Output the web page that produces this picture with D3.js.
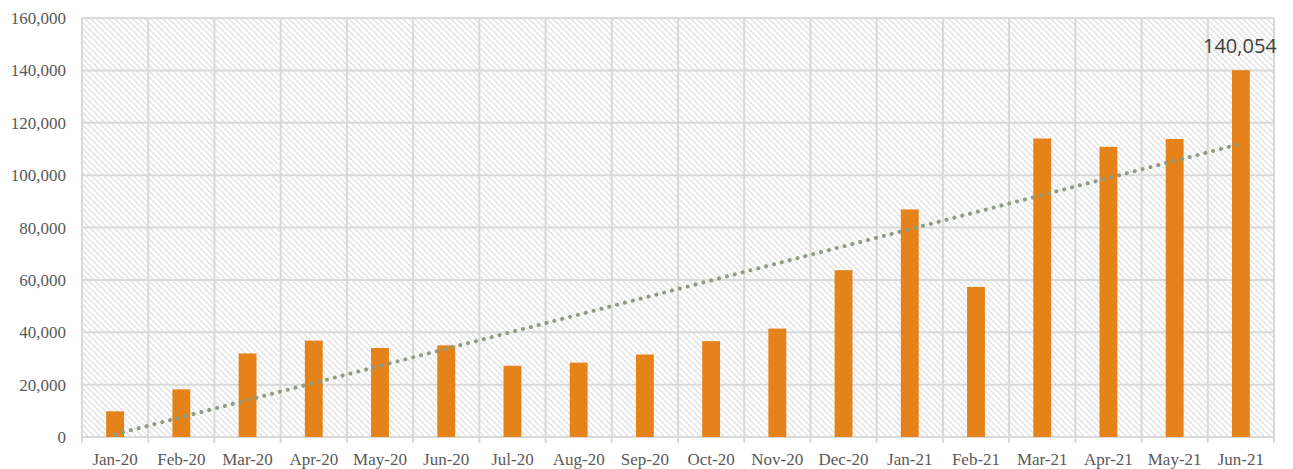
<!DOCTYPE html>
<html>

<head>
    <meta charset="utf-8" />
    <script src="https://cdn.jsdelivr.net/npm/d3@7"></script>
    <style>
        body { margin: 0; background: #fff; }
    </style>
</head>

<body>
    <script>
        var width = 1293;
        var height = 469;
        var paddings = { top: 18, right: 19, bottom: 32, left: 82 };

        var months = ['Jan-20', 'Feb-20', 'Mar-20', 'Apr-20', 'May-20', 'Jun-20', 'Jul-20', 'Aug-20', 'Sep-20',
            'Oct-20', 'Nov-20', 'Dec-20', 'Jan-21', 'Feb-21', 'Mar-21', 'Apr-21', 'May-21', 'Jun-21'];
        var values = [9800, 18200, 31900, 36800, 34000, 35000, 27200, 28400, 31500,
            36600, 41400, 63700, 86900, 57300, 114000, 110800, 113800, 140054];
        var yTicks = [0, 20000, 40000, 60000, 80000, 100000, 120000, 140000, 160000];

        var svg = d3.select('body')
            .append('svg')
            .attr('width', width)
            .attr('height', height);

        // hatched plot background
        var pat = svg.append('defs').append('pattern')
            .attr('id', 'hatch')
            .attr('patternUnits', 'userSpaceOnUse')
            .attr('width', 6)
            .attr('height', 6);
        pat.append('path')
            .attr('d', 'M0,0 L6,6 M-3,3 L3,9 M3,-3 L9,3')
            .attr('stroke', '#e0e0e0')
            .attr('stroke-width', 1.3);

        var x = d3.scaleBand()
            .domain(months)
            .range([paddings.left, width - paddings.right])
            .paddingInner(0.73)
            .paddingOuter(0.365);
        var step = x.step();
        var x0 = paddings.left;

        var y = d3.scaleLinear()
            .domain([0, 160000])
            .range([height - paddings.bottom, paddings.top]);

        svg.append('rect')
            .attr('x', paddings.left)
            .attr('y', paddings.top)
            .attr('width', width - paddings.left - paddings.right)
            .attr('height', height - paddings.top - paddings.bottom)
            .attr('fill', 'url(#hatch)');

        // horizontal gridlines
        svg.append('g').selectAll('line')
            .data(yTicks)
            .enter()
            .append('line')
            .attr('x1', paddings.left)
            .attr('x2', width - paddings.right)
            .attr('y1', function (d) { return y(d); })
            .attr('y2', function (d) { return y(d); })
            .attr('stroke', '#d9d9d9')
            .attr('stroke-width', 2);

        // vertical gridlines at category boundaries
        var bounds = d3.range(months.length + 1);
        svg.append('g').selectAll('line')
            .data(bounds)
            .enter()
            .append('line')
            .attr('x1', function (d) { return x0 + d * step; })
            .attr('x2', function (d) { return x0 + d * step; })
            .attr('y1', paddings.top)
            .attr('y2', height - paddings.bottom + 6)
            .attr('stroke', '#d9d9d9')
            .attr('stroke-width', 2);

        // bars
        svg.append('g').selectAll('rect')
            .data(values)
            .enter()
            .append('rect')
            .attr('fill', '#e5831a')
            .attr('x', function (d, i) { return x(months[i]); })
            .attr('width', x.bandwidth())
            .attr('y', function (d) { return y(d); })
            .attr('height', function (d) { return y(0) - y(d); });

        // linear trendline (least squares over the bars)
        var n = values.length;
        var mx = d3.mean(d3.range(n));
        var my = d3.mean(values);
        var sxy = d3.sum(values, function (d, i) { return (i - mx) * (d - my); });
        var sxx = d3.sum(d3.range(n), function (i) { return (i - mx) * (i - mx); });
        var slope = sxy / sxx;
        var icpt = my - slope * mx;
        var trend = [0, n - 1].map(function (i) { return [i, icpt + slope * i]; });

        svg.append('path')
            .datum(trend)
            .attr('d', d3.line()
                .x(function (d) { return x(months[d[0]]) + x.bandwidth() / 2; })
                .y(function (d) { return y(d[1]); }))
            .attr('fill', 'none')
            .attr('stroke', '#8d9c82')
            .attr('stroke-width', 4)
            .attr('stroke-linecap', 'round')
            .attr('stroke-dasharray', '0.1 8');

        // y axis labels
        var fmt = d3.format(',');
        svg.append('g').selectAll('text')
            .data(yTicks)
            .enter()
            .append('text')
            .text(function (d) { return fmt(d); })
            .attr('x', 66)
            .attr('y', function (d) { return y(d) + 6; })
            .attr('text-anchor', 'end')
            .attr('font-family', '"Liberation Serif", "Times New Roman", serif')
            .attr('font-size', 17)
            .attr('fill', '#595959');

        // x axis labels
        svg.append('g').selectAll('text')
            .data(months)
            .enter()
            .append('text')
            .text(function (d) { return d; })
            .attr('x', function (d) { return x(d) + x.bandwidth() / 2; })
            .attr('y', 465)
            .attr('text-anchor', 'middle')
            .attr('font-family', '"Liberation Serif", "Times New Roman", serif')
            .attr('font-size', 17)
            .attr('fill', '#595959');

        // label on the last bar
        var last = n - 1;
        svg.append('text')
            .text(fmt(values[last]))
            .attr('x', x(months[last]) + x.bandwidth() / 2 - 1)
            .attr('y', y(values[last]) - 17)
            .attr('text-anchor', 'middle')
            .attr('font-family', '"Open Sans", "Noto Sans", sans-serif')
            .attr('font-size', 20)
            .attr('fill', '#404040');
    </script>
</body>

</html>
